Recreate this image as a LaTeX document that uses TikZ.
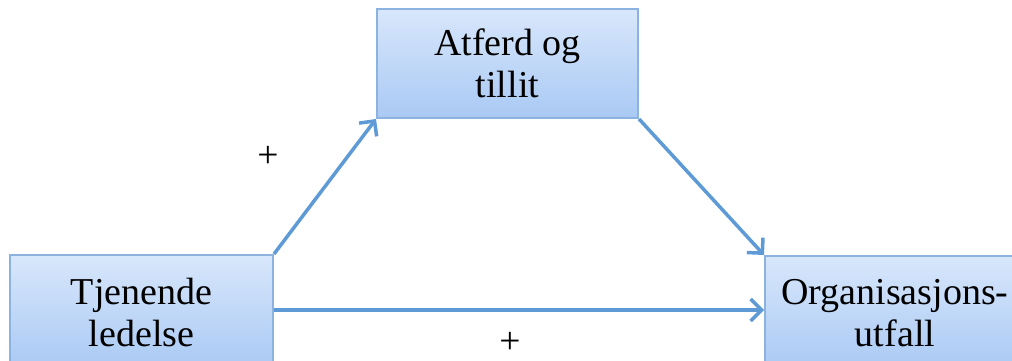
\documentclass[tikz,border=0pt]{standalone}
\usepackage{fontspec}
\setmainfont{Liberation Serif}
\usetikzlibrary{arrows.meta,shadows}
\definecolor{boxtop}{HTML}{D8E7FB}
\definecolor{boxbot}{HTML}{A9C9F4}
\definecolor{boxline}{HTML}{8CB2E0}
\definecolor{arrowblue}{HTML}{5D9AD6}
\tikzset{
  boxnode/.style={draw=boxline, line width=2pt, top color=boxtop, bottom color=boxbot,
    align=center, inner sep=0pt, font=\fontsize{38}{42}\selectfont},
  conn/.style={draw=arrowblue, line width=3.5pt, -{Straight Barb[length=11pt,width=22pt,line width=3.5pt]}},
  plus/.style={font=\fontsize{37.5}{42}\selectfont, inner sep=0pt}
}
\begin{document}
\begin{tikzpicture}[x=1pt,y=-1pt]
\useasboundingbox (0,0) rectangle (1012,361);
\clip (0,0) rectangle (1012,361);
\node[boxnode, minimum width=261pt, minimum height=109pt] (top) at (507.5,63.5) {Atferd og\\tillit};
\node[boxnode, minimum width=263pt, minimum height=114pt] (left) at (141.5,312) {Tjenende\\ledelse};
\node[boxnode, minimum width=260pt, minimum height=114pt] (right) at (895,313) {Organisasjons-\\utfall};
\draw[conn] (left.north east) -- (top.south west);
\draw[conn] (top.south east) -- (right.north west);
\draw[conn] (left.east |- 0,310) coordinate (h1) -- (right.west |- h1);
\node[plus] (p1) at (268,157) {+};
\node[plus] (p2) at (510,343) {+};
\end{tikzpicture}
\end{document}
